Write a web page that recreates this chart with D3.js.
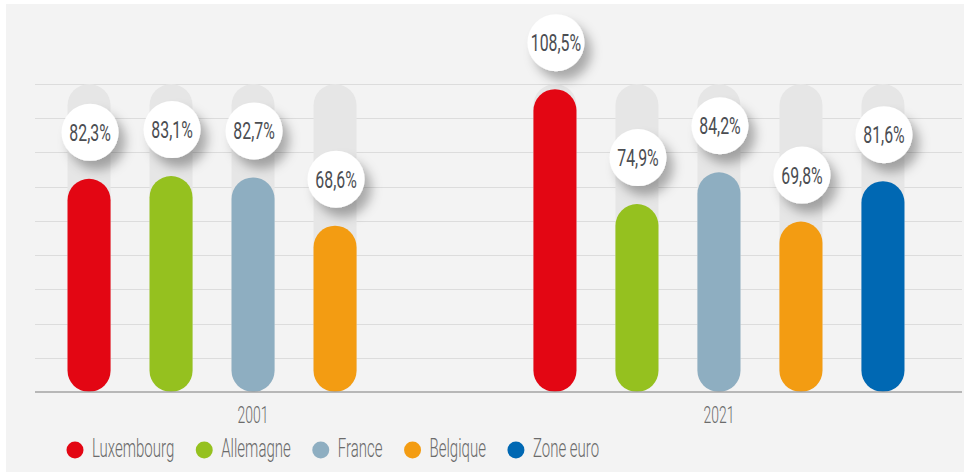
<!DOCTYPE html>
<html>
<head>
<meta charset="utf-8">
<script src="https://cdn.jsdelivr.net/npm/d3@7"></script>
<style>
  html, body { margin: 0; padding: 0; background: #fff; }
  svg { display: block; }
</style>
</head>
<body>
<svg id="chart" width="964" height="472"></svg>
<script>
// data
const years = ["2001", "2021"]
const countries = ["Luxembourg", "Allemagne", "France", "Belgique", "Zone euro"]
const colors = ["#e30613", "#95c11f", "#8eaec1", "#f39c12", "#0068b3"]
const values2001 = [82.3, 83.1, 82.7, 68.6, null]
const values2021 = [108.5, 74.9, 84.2, 69.8, 81.6]
const yDomain = [20, 110]

const width = 964
const height = 472
const svg = d3.select('#chart')

let data = years.map((yr, i) => {
    let vals = i == 0 ? values2001 : values2021
    return {
        year: yr,
        bars: countries.map((c, j) => ({ country: c, value: vals[j], color: colors[j] }))
            .filter(d => d.value != null)
    }
})

let locale = d3.formatLocale({ decimal: ",", thousands: " ", grouping: [3], currency: ["", " €"] })
let fmt = locale.format(".1f")

// background panel
svg.append('rect')
.attr('x', 6)
.attr('y', 4)
.attr('width', width - 6)
.attr('height', height - 4)
.attr('fill', '#f3f3f3')

let defs = svg.append('defs')
let filter = defs.append('filter')
.attr('id', 'shadow')
.attr('x', '-50%').attr('y', '-50%')
.attr('width', '200%').attr('height', '200%')
filter.append('feDropShadow')
.attr('dx', 7)
.attr('dy', 9)
.attr('stdDeviation', 5.5)
.attr('flood-color', '#000')
.attr('flood-opacity', 0.3)

let y = d3.scaleLinear()
.domain(yDomain)
.range([392, 84])

let x0 = d3.scaleBand()
.domain(years)
.range([35, 937])
.paddingInner(0.12)
.paddingOuter(0.028)

let x1 = d3.scaleBand()
.domain(countries)
.range([0, x0.bandwidth()])
.paddingInner(0.475)
.paddingOuter(0.2375)

// grid
svg.append('g')
.attr('class', 'grid')
.selectAll('line')
.data(y.ticks(9).filter(t => t > yDomain[0]))
.enter()
.append('line')
.attr('x1', 35)
.attr('x2', 962)
.attr('y1', d => Math.round(y(d)) + 0.5)
.attr('y2', d => Math.round(y(d)) + 0.5)
.attr('stroke', '#dcdcdc')
.attr('stroke-width', 1)

let bw = x1.bandwidth()

let groups = svg.selectAll('g.year')
.data(data)
.enter()
.append('g')
.attr('class', 'year')
.attr('transform', d => `translate(${x0(d.year)},0)`)

// grey tracks
groups.selectAll('rect.track')
.data(d => d.bars)
.enter()
.append('rect')
.attr('class', 'track')
.attr('x', d => x1(d.country))
.attr('y', y(yDomain[1]))
.attr('width', bw)
.attr('height', y(yDomain[0]) - y(yDomain[1]))
.attr('rx', bw / 2)
.attr('fill', '#e6e6e6')

// coloured bars
groups.selectAll('rect.bar')
.data(d => d.bars)
.enter()
.append('rect')
.attr('class', 'bar')
.attr('x', d => x1(d.country))
.attr('y', d => y(d.value))
.attr('width', bw)
.attr('height', d => y(yDomain[0]) - y(d.value))
.attr('rx', bw / 2)
.attr('fill', d => d.color)

// baseline
svg.append('line')
.attr('x1', 35)
.attr('x2', 962)
.attr('y1', 392)
.attr('y2', 392)
.attr('stroke', '#a3a3a3')
.attr('stroke-width', 1.6)

// value bubbles
let bubbles = groups.selectAll('g.bubble')
.data(d => d.bars)
.enter()
.append('g')
.attr('class', 'bubble')
.attr('transform', d => `translate(${x1(d.country) + bw / 2 + 1},${y(d.value) - 46.5})`)

bubbles.append('circle')
.attr('r', 28.5)
.attr('fill', '#fff')
.attr('filter', 'url(#shadow)')

bubbles.append('text')
.attr('transform', 'scale(0.66,1)')
.attr('y', 8.5)
.attr('text-anchor', 'middle')
.attr('font-family', 'Roboto, sans-serif')
.attr('font-size', 24)
.attr('fill', '#4b4d52')
.text(d => fmt(d.value) + '%')

// year labels
svg.selectAll('text.yearLabel')
.data(years)
.enter()
.append('g')
.attr('transform', d => `translate(${x0(d) + x0.bandwidth() / 2},423)`)
.append('text')
.attr('class', 'yearLabel')
.attr('transform', 'scale(0.58,1)')
.attr('text-anchor', 'middle')
.attr('font-family', 'Roboto, sans-serif')
.attr('font-weight', 300)
.attr('font-size', 24)
.attr('fill', '#6b6b6b')
.text(d => d)

// legend
let legend = svg.append('g').attr('class', 'legend')
let cx = 75
let sx = 0.6
countries.forEach((c, i) => {
    let item = legend.append('g')
    item.append('circle')
    .attr('cx', cx)
    .attr('cy', 450)
    .attr('r', 8.5)
    .attr('fill', colors[i])
    let t = item.append('g')
    .attr('transform', `translate(${cx + 17},457)`)
    .append('text')
    .attr('transform', `scale(${sx},1)`)
    .attr('font-family', 'Roboto, sans-serif')
    .attr('font-weight', 300)
    .attr('font-size', 25)
    .attr('fill', '#6b6b6b')
    .text(c)
    let w = t.node().getComputedTextLength() * sx
    cx = cx + 17 + w + 30
})
</script>
</body>
</html>
